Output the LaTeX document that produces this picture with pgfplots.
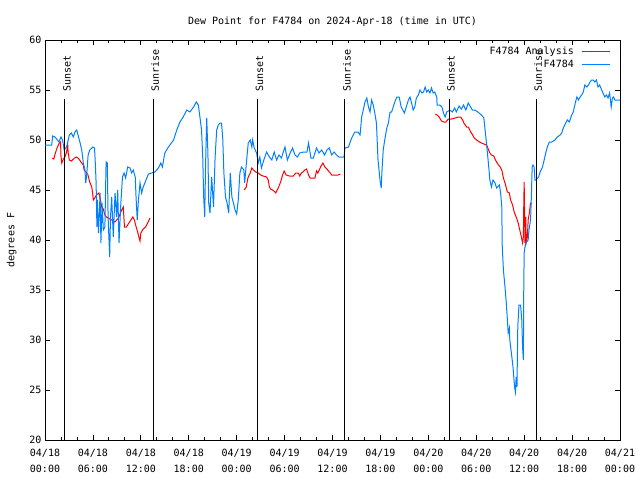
\documentclass[border=0pt]{standalone}
\usepackage{pgfplots}
\pgfplotsset{compat=1.18}
\usepackage{pgfplotstable}
\usepackage{fontspec}
\setmainfont{DejaVu Sans Mono}
\definecolor{gblue}{RGB}{0,128,255}
\definecolor{gred}{RGB}{255,0,0}
\newcommand{\ff}{\fontsize{10bp}{12bp}\selectfont}
\newcommand{\fx}{\fontsize{10bp}{15.5bp}\selectfont}

\pgfplotstableread{
h v
0.92 48.2
1.1 48.1
1.3 48.7
1.55 49.3
1.8 49.7
1.95 49.8
2.0 48.4
2.1 47.7
2.3 48.1
2.5 48.3
2.7 48.8
2.85 49.5
2.9 48.7
3.05 48.0
3.3 47.9
3.7 48.2
3.95 48.3
4.25 48.1
4.5 47.8
4.8 47.5
4.9 47.0
5.1 46.8
5.35 46.6
5.6 45.8
5.85 45.3
5.95 44.8
6.05 44.0
6.15 44.1
6.45 44.5
6.75 44.7
6.95 44.0
7.1 43.3
7.3 43.1
7.5 42.5
7.7 42.3
7.9 42.2
8.15 42.1
8.35 42.0
8.75 41.8
8.97 42.0
9.2 42.2
9.4 42.6
9.6 43.0
9.8 43.3
9.95 41.3
10.2 41.3
10.5 41.7
10.75 42.0
11.0 42.3
11.2 42.0
11.35 41.5
11.6 40.8
11.75 40.3
11.9 39.9
12.0 40.7
12.3 41.1
12.6 41.3
12.85 41.7
13.15 42.2
13.2 nan
24.95 45.0
25.2 45.3
25.4 46.2
25.7 46.7
25.9 47.2
26.1 47.0
26.4 46.8
26.7 46.7
27.0 46.5
27.3 46.4
27.75 46.3
27.95 46.0
28.1 45.3
28.25 45.1
28.5 45.0
28.8 44.8
28.9 44.7
29.2 45.2
29.5 45.8
29.75 46.5
29.95 46.9
30.2 46.5
30.6 46.4
31.1 46.4
31.4 46.7
31.7 46.7
31.9 46.4
32.1 46.7
32.3 46.8
32.55 47.0
32.75 47.1
33.0 46.5
33.2 46.2
33.5 46.2
33.8 46.2
34.0 46.9
34.15 46.7
34.35 47.0
34.5 47.3
34.8 47.7
35.05 47.3
35.3 47.1
35.6 46.8
35.9 46.5
36.3 46.5
36.7 46.5
37.0 46.6
37.1 nan
48.85 52.6
49.1 52.5
49.35 52.3
49.65 51.9
49.95 51.8
50.2 51.8
50.5 52.1
50.9 52.1
51.35 52.2
51.75 52.3
52.05 52.3
52.3 52.0
52.45 51.7
52.8 51.3
53.0 51.3
53.3 50.8
53.55 50.5
53.75 50.2
54.05 50.0
54.4 49.8
54.65 49.7
54.95 49.6
55.3 49.5
55.5 49.1
55.7 48.7
55.9 48.5
56.2 48.4
56.4 48.0
56.7 47.6
57.0 47.3
57.2 47.0
57.4 46.2
57.6 45.7
57.9 44.8
58.15 44.7
58.3 44.0
58.55 43.5
58.75 42.8
59.05 42.2
59.25 41.7
59.45 41.0
59.65 40.3
59.8 39.7
59.9 40.3
59.95 43.5
60.0 45.8
60.1 39.7
60.2 42.3
60.25 39.7
60.4 40.3
60.5 42.0
60.65 42.7
60.8 43.7
61.0 43.7
}\redtab

\pgfplotstableread{
h v
0 49.5
0.84 49.5
0.96 50.4
1.25 50.3
1.46 50.1
1.75 49.8
2.0 50.3
2.2 50.0
2.4 49.0
2.7 49.3
3.05 50.5
3.3 50.7
3.55 50.3
3.75 50.8
3.97 51.0
4.17 50.4
4.4 49.7
4.6 49.0
4.8 47.7
5.0 47.0
5.1 45.7
5.2 46.3
5.4 48.5
5.6 49.0
6.0 49.3
6.2 49.2
6.3 47.7
6.4 45.7
6.5 41.3
6.55 44.0
6.7 40.7
6.9 44.7
7.0 39.7
7.15 43.7
7.3 41.0
7.5 41.3
7.65 47.8
7.8 47.7
7.9 42.3
8.1 38.3
8.2 42.3
8.35 44.3
8.55 40.3
8.77 44.7
8.97 42.3
9.1 45.0
9.27 39.7
9.47 43.3
9.7 46.3
9.9 46.7
10.1 46.2
10.35 47.3
10.65 47.2
10.85 46.7
11.05 47.0
11.3 46.3
11.4 44.3
11.55 42.0
11.7 44.0
11.9 45.7
12.1 44.7
12.3 45.3
12.65 46.0
12.95 46.6
13.35 46.7
13.77 46.8
14.2 47.2
14.5 47.7
14.7 47.3
15.0 48.7
15.45 49.3
16.1 50.0
16.5 51.0
16.9 51.8
17.3 52.3
17.75 53.0
18.15 52.8
18.6 53.3
18.95 53.8
19.2 53.5
19.4 52.3
19.6 51.0
19.75 48.3
19.87 44.3
20.0 42.3
20.1 47.3
20.25 52.2
20.4 48.7
20.5 43.7
20.66 42.7
20.87 46.3
21.1 43.3
21.3 48.3
21.5 51.0
21.7 51.5
21.9 51.7
22.1 51.7
22.25 50.3
22.4 46.7
22.6 44.3
22.8 43.7
23.0 42.7
23.2 46.7
23.4 44.3
23.6 43.7
23.8 43.0
24.0 42.6
24.2 44.0
24.4 46.7
24.6 47.3
24.9 47.0
25.0 45.7
25.25 48.0
25.45 49.7
25.7 50.0
25.9 49.3
26.0 50.0
26.2 49.2
26.5 48.7
26.7 47.7
26.9 48.3
27.1 47.2
27.4 48.0
27.75 48.8
28.1 48.3
28.4 48.0
28.7 48.8
29.0 48.0
29.3 48.5
29.6 48.2
30.05 49.3
30.35 48.0
30.7 48.7
31.0 49.2
31.3 48.5
31.6 48.3
31.9 48.7
32.35 48.8
32.8 48.8
33.0 49.7
33.3 48.2
33.6 48.2
34.0 49.2
34.3 48.7
34.65 49.0
35.0 48.5
35.3 49.0
35.6 49.2
35.9 48.5
36.2 48.8
36.5 48.5
36.8 48.3
37.15 48.3
37.45 48.3
37.55 49.2
38.0 49.3
38.4 50.2
38.8 50.8
39.2 50.8
39.45 50.5
39.65 52.3
39.85 53.0
40.07 53.8
40.3 54.2
40.5 53.3
40.7 52.8
40.9 54.0
41.1 53.5
41.3 52.7
41.5 51.7
41.7 48.0
41.95 46.0
42.1 45.2
42.2 47.0
42.35 49.0
42.6 50.3
42.8 51.2
43.0 51.7
43.2 52.8
43.4 52.8
43.6 53.3
43.8 53.8
44.05 54.3
44.35 54.3
44.6 53.3
44.8 53.0
45.0 52.7
45.2 53.2
45.5 54.0
45.7 54.3
45.9 53.7
46.1 53.0
46.3 53.3
46.5 54.2
46.75 54.5
46.95 55.0
47.2 54.7
47.4 54.8
47.6 55.3
47.8 54.8
48.0 55.0
48.2 54.7
48.4 55.2
48.6 54.7
48.8 54.8
49.05 54.3
49.1 53.5
49.45 53.5
49.7 53.3
49.9 52.7
50.1 52.3
50.3 52.8
50.7 53.0
51.0 52.8
51.3 53.2
51.5 52.8
51.85 53.4
52.15 53.1
52.4 53.5
52.7 53.0
53.0 53.7
53.3 53.3
53.5 53.0
53.8 53.0
54.2 52.8
54.65 52.5
54.95 52.2
55.2 50.3
55.4 48.7
55.6 47.0
55.7 46.0
55.9 45.3
56.1 46.0
56.35 45.7
56.55 45.2
56.9 45.5
57.05 44.7
57.2 43.3
57.25 39.5
57.4 37.0
57.6 35.3
57.75 33.8
57.9 32.0
58.0 30.7
58.15 31.2
58.2 30.0
58.4 28.7
58.6 27.3
58.8 25.3
58.9 24.8
59.0 26.3
59.1 25.3
59.2 31.3
59.35 33.5
59.55 33.5
59.7 32.0
59.8 29.3
59.9 28.0
59.95 35.3
60.0 38.7
60.1 39.3
60.2 39.7
60.5 40.0
60.6 41.0
60.8 42.0
60.9 44.3
61.0 47.3
61.1 47.5
61.25 47.3
61.35 46.0
61.5 46.0
61.8 46.3
62.0 46.8
62.3 47.3
62.5 48.0
62.7 48.7
62.9 49.3
63.15 49.8
63.45 49.8
63.85 50.0
64.15 50.3
64.5 50.5
64.7 50.7
64.9 51.2
65.4 52.0
65.65 51.8
65.95 52.5
66.15 52.8
66.4 53.7
66.6 54.3
66.8 54.0
67.0 54.3
67.2 54.5
67.4 54.8
67.6 55.5
67.85 55.3
68.05 55.5
68.25 55.8
68.45 56.0
68.65 56.0
68.85 55.8
69.05 56.0
69.25 55.3
69.45 55.5
69.7 55.0
70.1 54.3
70.3 54.5
70.5 54.2
70.7 54.7
70.9 53.3
71.05 54.2
71.2 54.3
71.35 54.0
72 54.0
}\bluetab

\begin{document}
\begin{tikzpicture}
\path[use as bounding box] (-45bp,-40bp) rectangle (595bp,440bp);
\begin{axis}[
  at={(0,0)}, anchor=south west,
  scale only axis, width=575bp, height=400bp,
  xmin=0, xmax=72, ymin=20, ymax=60,
  axis line style={line width=0.8bp},
  xtick={0,6,...,72},
  minor x tick num=2,
  xticklabels={{04/18\\00:00},{04/18\\06:00},{04/18\\12:00},{04/18\\18:00},{04/19\\00:00},{04/19\\06:00},{04/19\\12:00},{04/19\\18:00},{04/20\\00:00},{04/20\\06:00},{04/20\\12:00},{04/20\\18:00},{04/21\\00:00}},
  xticklabel style={align=center, font=\fx, text depth=0pt, yshift=-6bp},
  ytick={20,25,...,60},
  yticklabel style={font=\ff},
  /pgf/number format/assume math mode=true,
  major tick length=5bp, minor tick length=3bp,
  tick style={line width=0.8bp, black},
  title={Dew Point for F4784 on 2024-Apr-18 (time in UTC)},
  title style={font=\ff, yshift=4bp},
  ylabel={degrees F},
  ylabel style={font=\ff},
  ylabel shift=6bp,
  legend style={at={(axis description cs:1,1)}, anchor=north east, draw=none, fill=none, font=\ff, xshift=-6bp, yshift=-3bp, row sep=0bp, column sep=6bp},
  legend cell align=right,
  legend plot pos=right,
  legend image code/.code={\draw[#1, line width=1bp] (0bp,0bp) -- (28bp,0bp);},
  unbounded coords=jump,
]
\addplot[gred, line width=1bp] table[x=h, y=v] {\redtab};
\addlegendentry{F4784 Analysis}
\addplot[gblue, line width=1bp] table[x=h, y=v] {\bluetab};
\addlegendentry{F4784}
\foreach \t/\lab in {2.5/Sunset, 13.55/Sunrise, 26.6/Sunset, 37.55/Sunrise, 50.6/Sunset, 61.5/Sunrise}{
  \edef\tmp{\noexpand\draw[black, line width=1bp] (axis cs:\t,20) -- (axis cs:\t,54.1);
  \noexpand\node[rotate=90, anchor=west, inner sep=0pt, font=\noexpand\ff] at (axis cs:\t+0.25,54.8) {\lab};}
  \tmp
}
\end{axis}
\end{tikzpicture}
\end{document}
